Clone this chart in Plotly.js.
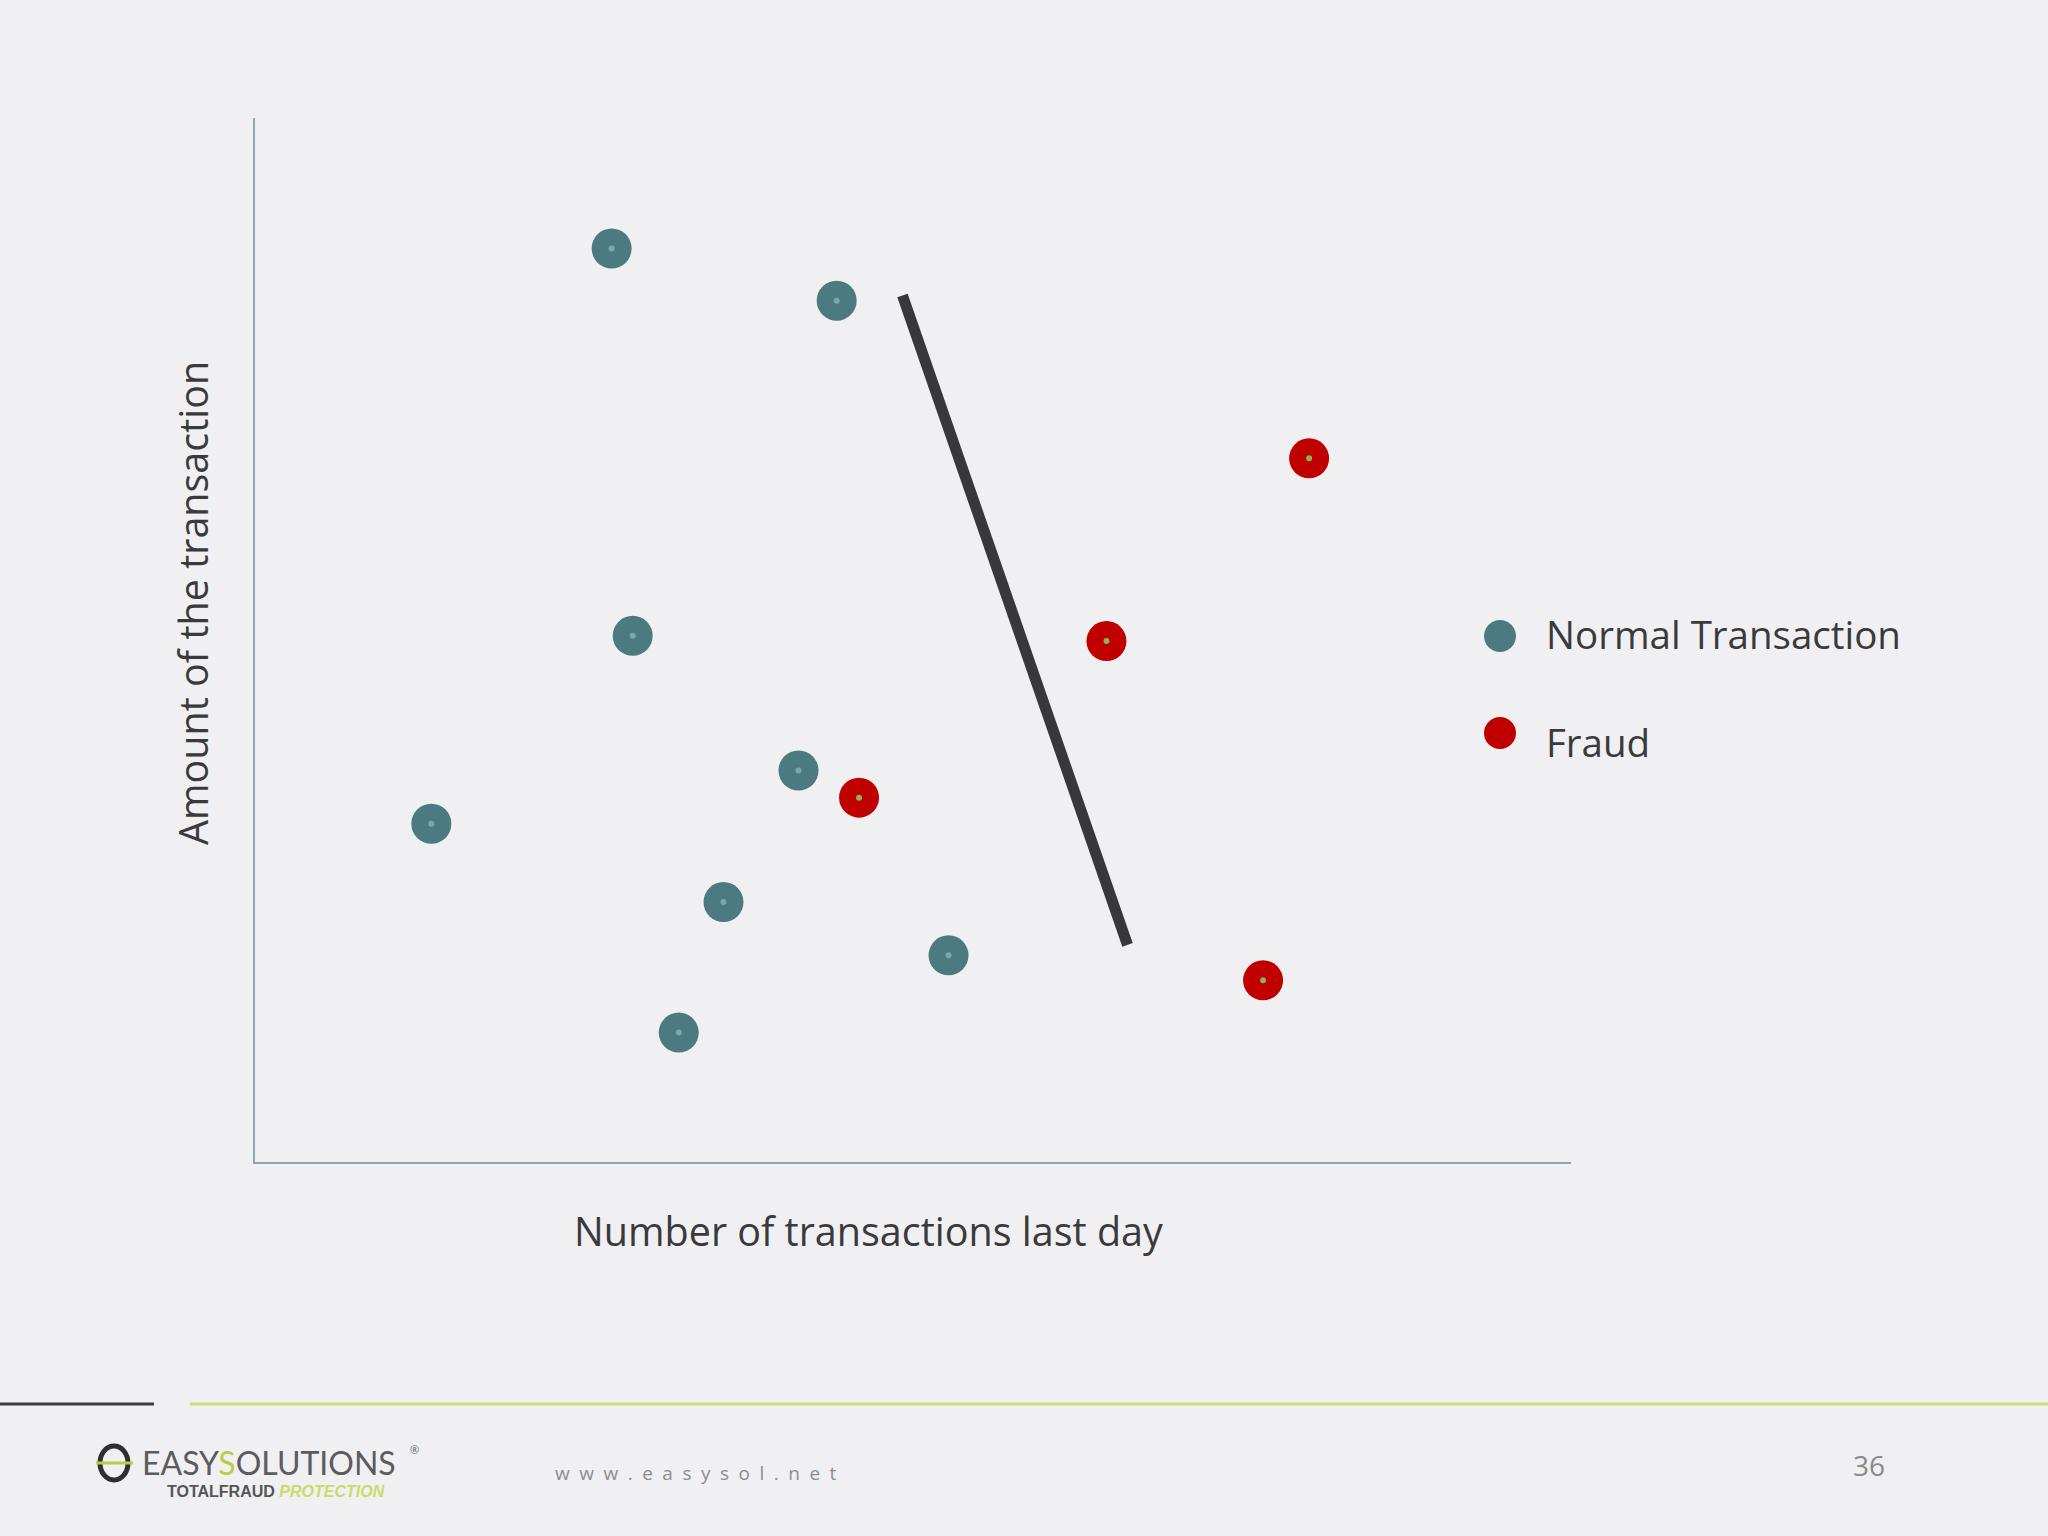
<!DOCTYPE html>
<html><head><meta charset="utf-8">
<script src="https://cdn.plot.ly/plotly-3.0.1.min.js"></script>
<style>html,body{margin:0;padding:0;background:#f1f1f3;}#chart{width:2048px;height:1536px;}</style>
</head><body><div id="chart"></div>
<script>
// ---- data ----
const seriesNames = ["Normal Transaction", "Fraud"];
const normalX = [27.1, 44.2, 28.7, 13.4, 41.3, 35.6, 52.7, 32.2];
const normalY = [87.5, 82.5, 50.4, 32.4, 37.5, 24.9, 19.8, 12.4];
const fraudX = [80.1, 64.7, 45.9, 76.6];
const fraudY = [67.4, 49.9, 34.9, 17.4];
const boundaryX = [49.2, 66.3];
const boundaryY = [83.0, 20.8];
const xTitle = "Number of transactions last day";
const yTitle = "Amount of the transaction";
const pageNumber = "36";
const siteUrl = "www.easysol.net";

// ---- layout helpers (pixel -> paper) ----
const L = 255, R = 1571, T = 118, B = 1162;
const fx = p => (p - L) / (R - L);
const fy = p => (B - p) / (B - T);

const NORMAL = "#4b7b80", FRAUD = "#c00000", TEXT = "#3a3a3c";
const FONT = "Open Sans, Noto Sans, sans-serif";

const traces = [
  {x: boundaryX, y: boundaryY, mode: "lines", line: {color: "#38383a", width: 11}, hoverinfo: "skip", showlegend: false},
  {x: normalX, y: normalY, mode: "markers", name: seriesNames[0], marker: {size: 40, color: NORMAL}},
  {x: normalX, y: normalY, mode: "markers", hoverinfo: "skip", showlegend: false, marker: {size: 6, color: "#7aa8ae"}},
  {x: fraudX, y: fraudY, mode: "markers", name: seriesNames[1], marker: {size: 40, color: FRAUD}},
  {x: fraudX, y: fraudY, mode: "markers", hoverinfo: "skip", showlegend: false, marker: {size: 6, color: "#8cb44c"}}
];

const axisBase = {range: [0, 100], showline: true, linecolor: "#88abb0", linewidth: 2,
  showgrid: false, zeroline: false, showticklabels: false, ticks: "", fixedrange: true};

const shapes = [];
// very soft, photo-like light glow (many faint concentric ellipses -> smooth gradient)
for (let i = 0; i < 10; i++) {
  const k = i / 10;
  const cx = 1150, cy = 760, rx = 1050 * (1 - k * 0.85), ry = 620 * (1 - k * 0.85);
  shapes.push({type: "circle", xref: "paper", yref: "paper",
    x0: fx(cx - rx), x1: fx(cx + rx), y0: fy(cy + ry), y1: fy(cy - ry),
    fillcolor: "#ffffff", opacity: 0.06, line: {width: 0}, layer: "below"});
}
shapes.push(
  // footer rules
  {type: "line", xref: "paper", yref: "paper", x0: fx(0), x1: fx(154), y0: fy(1404), y1: fy(1404),
   line: {color: "#3c3c3e", width: 3}},
  {type: "line", xref: "paper", yref: "paper", x0: fx(190), x1: fx(2048), y0: fy(1404), y1: fy(1404),
   line: {color: "#cddc78", width: 3}},
  // legend swatches
  {type: "circle", xref: "paper", yref: "paper", xsizemode: "pixel", ysizemode: "pixel",
   xanchor: fx(1500), yanchor: fy(636), x0: -16, x1: 16, y0: -16, y1: 16, fillcolor: NORMAL, line: {width: 0}},
  {type: "circle", xref: "paper", yref: "paper", xsizemode: "pixel", ysizemode: "pixel",
   xanchor: fx(1500), yanchor: fy(733), x0: -16, x1: 16, y0: -16, y1: 16, fillcolor: FRAUD, line: {width: 0}},
  // logo icon
  {type: "circle", xref: "paper", yref: "paper", xsizemode: "pixel", ysizemode: "pixel",
   xanchor: fx(114), yanchor: fy(1463), x0: -14, x1: 14, y0: -17, y1: 17, fillcolor: "rgba(0,0,0,0)",
   line: {color: "#2f2f31", width: 5}},
  {type: "line", xref: "paper", yref: "paper", x0: fx(96), x1: fx(133), y0: fy(1463), y1: fy(1463),
   line: {color: "#b5cf45", width: 3}}
);

const ann = (text, x, y, opts) => Object.assign({text, x, y, xref: "paper", yref: "paper",
  showarrow: false, xanchor: "center", yanchor: "middle"}, opts);

const annotations = [
  ann(xTitle, fx(868), fy(1231), {font: {family: FONT, size: 39.5, color: TEXT}}),
  ann(yTitle, fx(193), fy(603), {textangle: -90, font: {family: FONT, size: 39.5, color: TEXT}}),
  ann(seriesNames[0], fx(1544), fy(634), {xanchor: "left", font: {family: FONT, size: 38.5, color: TEXT}}),
  ann(seriesNames[1], fx(1544), fy(742), {xanchor: "left", font: {family: FONT, size: 38.5, color: TEXT}}),
  ann(pageNumber, fx(1869), fy(1465), {font: {family: FONT, size: 28, color: "#8a8a8c"}}),
  ann(siteUrl.split("").join("\u2002"), fx(696), fy(1473), {font: {family: FONT, size: 19, color: "#8d8d8f"}}),
  ann('EASY<span style="color:#b5cf45">S</span>OLUTIONS', fx(140), fy(1462),
      {xanchor: "left", font: {family: "Lato, DejaVu Sans, sans-serif", size: 32, color: "#5c5c5e"}}),
  ann('®', fx(414), fy(1449), {font: {family: FONT, size: 11, color: "#5c5c5e"}}),
  ann('<b>TOTALFRAUD</b> <i style="color:#c9dc6a"><b>PROTECTION</b></i>', fx(165), fy(1491),
      {xanchor: "left", font: {family: "Liberation Sans Narrow, Liberation Sans, sans-serif", size: 16, color: "#555557"}})
];

const layout = {
  width: 2048, height: 1536,
  margin: {l: L, r: 2048 - R, t: T, b: 1536 - B, pad: 0},
  paper_bgcolor: "#f0f0f2", plot_bgcolor: "rgba(0,0,0,0)",
  showlegend: false,
  xaxis: Object.assign({}, axisBase),
  yaxis: Object.assign({}, axisBase),
  shapes, annotations
};

Plotly.newPlot("chart", traces, layout, {displayModeBar: false, staticPlot: true});
</script>
</body></html>
